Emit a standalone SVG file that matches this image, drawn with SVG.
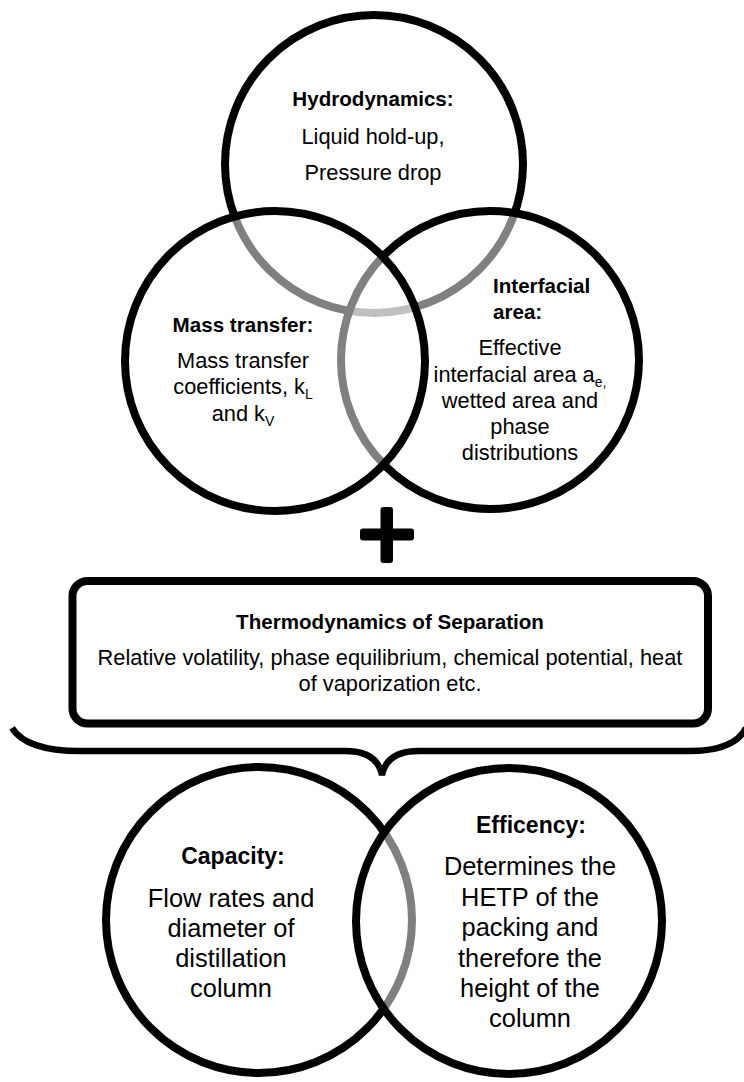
<svg xmlns="http://www.w3.org/2000/svg" width="744" height="1082" viewBox="0 0 744 1082">
<style>
.c{fill:#ffffff;fill-opacity:0.5;stroke:#000000;stroke-width:8}
.t{font-family:"Liberation Sans",Arial,sans-serif;fill:#000000;text-anchor:middle}
.b{font-weight:bold;font-size:20.6px}
.r{font-size:21.8px}
.bb{font-weight:bold;font-size:23px}
.rb{font-size:25.4px}
.sub{font-size:14px}
</style>
<rect x="0" y="0" width="744" height="1082" fill="#ffffff"/>
<g id="hydrodynamics">
<circle class="c" cx="374" cy="164" r="149"/>
<text class="t b" x="373" y="106">Hydrodynamics:</text>
<text class="t r" x="373" y="144">Liquid hold-up,</text>
<text class="t r" x="373" y="180">Pressure drop</text>
</g>
<g id="interfacial-area">
<circle class="c" cx="490" cy="360" r="149"/>
<text class="t b" x="493" y="293" style="text-anchor:start">Interfacial</text>
<text class="t b" x="493" y="319" style="text-anchor:start">area:</text>
<text class="t r" x="520" y="355">Effective</text>
<text class="t r" x="520" y="382">interfacial area a<tspan class="sub" dy="5">e,</tspan></text>
<text class="t r" x="520" y="408">wetted area and</text>
<text class="t r" x="520" y="434">phase</text>
<text class="t r" x="520" y="460">distributions</text>
</g>
<g id="mass-transfer">
<circle class="c" cx="275" cy="361" r="150"/>
<text class="t b" x="243" y="332">Mass transfer:</text>
<text class="t r" x="243" y="368">Mass transfer</text>
<text class="t r" x="243" y="394">coefficients, k<tspan class="sub" dy="5">L</tspan></text>
<text class="t r" x="243" y="421">and k<tspan class="sub" dy="5">V</tspan></text>
</g>
<g id="plus">
<rect x="360" y="528.5" width="54" height="12" rx="3" fill="#000000"/>
<rect x="380.5" y="507" width="12.5" height="56" rx="3" fill="#000000"/>
</g>
<g id="thermodynamics">
<rect x="72.5" y="581" width="635.5" height="142.5" rx="15" fill="#ffffff" stroke="#000000" stroke-width="8"/>
<text class="t b" x="390" y="629">Thermodynamics of Separation</text>
<text class="t r" x="390" y="665">Relative volatility, phase equilibrium, chemical potential, heat</text>
<text class="t r" x="390" y="691">of vaporization etc.</text>
</g>
<g id="connectors">
<path d="M 12,728 C 22,744 45,751 80,751 L 345,751 C 368,751 379,760 382,775 C 385,760 396,751 419,751 L 690,751 C 720,751 738,744 746,728" fill="none" stroke="#000000" stroke-width="6.5"/>
</g>
<g id="capacity">
<circle class="c" cx="259" cy="920" r="153"/>
<text class="t bb" x="233" y="864">Capacity:</text>
<text class="t rb" x="231" y="907">Flow rates and</text>
<text class="t rb" x="231" y="937">diameter of</text>
<text class="t rb" x="231" y="967">distillation</text>
<text class="t rb" x="231" y="997">column</text>
</g>
<g id="efficiency">
<circle class="c" cx="509" cy="921" r="153"/>
<text class="t bb" x="531" y="833">Efficency:</text>
<text class="t rb" x="530" y="875">Determines the</text>
<text class="t rb" x="530" y="906">HETP of the</text>
<text class="t rb" x="530" y="936">packing and</text>
<text class="t rb" x="530" y="967">therefore the</text>
<text class="t rb" x="530" y="997">height of the</text>
<text class="t rb" x="530" y="1027">column</text>
</g>
</svg>
